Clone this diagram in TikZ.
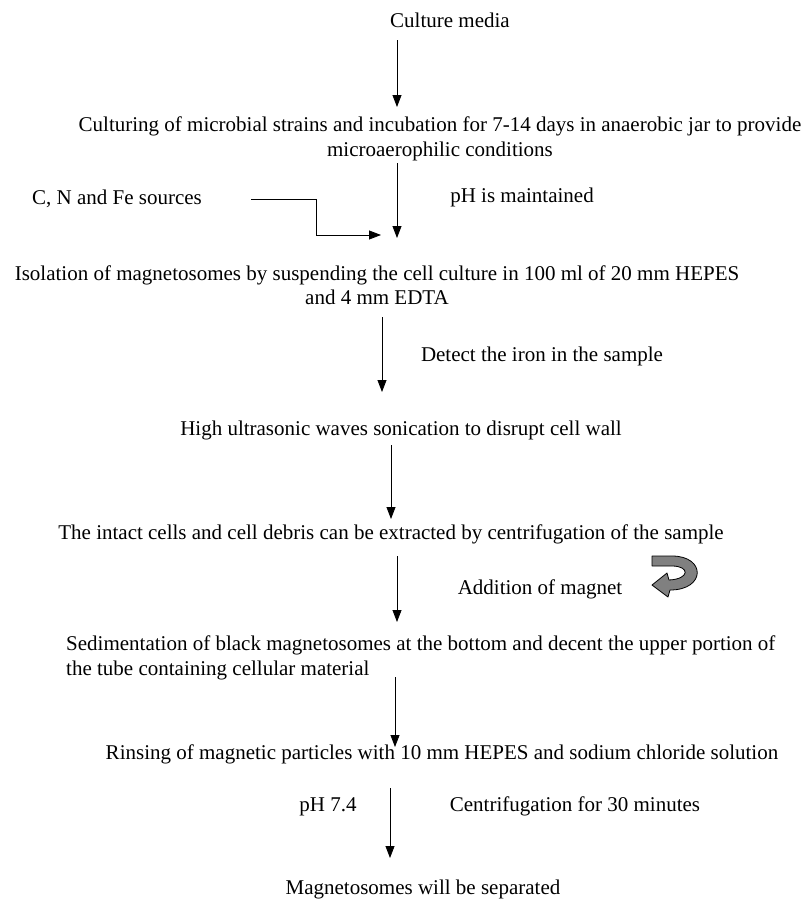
\documentclass[tikz,border=0pt]{standalone}
\usepackage{fontspec}
\setmainfont{Liberation Serif}
\usetikzlibrary{arrows.meta}
\newcommand{\fsz}{\fontsize{21}{24.5}\selectfont}
\tikzset{
  arr/.style={-{Triangle[width=9pt,length=12pt]}, line width=0.8pt},
  txt/.style={inner sep=0pt, font=\fsz, anchor=mid},
  blk/.style={inner sep=0pt, font=\fsz, align=center},
  turn/.style={fill=gray, draw=black, line width=0.8pt, line join=round}
}
\begin{document}
\begin{tikzpicture}[x=1pt,y=-1pt]
\useasboundingbox (0,0) rectangle (809,902);
% texts
\node[txt] (cm) at (450,25) {Culture media};
\node[blk] (cult) at (440,139) {Culturing of microbial strains and incubation for 7-14 days in anaerobic jar to provide\\microaerophilic conditions};
\node[txt] (cnf) at (117,202) {C, N and Fe sources};
\node[txt] (ph) at (522,200) {pH is maintained};
\node[blk] (iso) at (377,285) {Isolation of magnetosomes by suspending the cell culture in 100 ml of 20 mm HEPES\\and 4 mm EDTA};
\node[txt] (det) at (542,359) {Detect the iron in the sample};
\node[txt] (hu) at (401,433) {High ultrasonic waves sonication to disrupt cell wall};
\node[txt] (ic) at (391,537) {The intact cells and cell debris can be extracted by centrifugation of the sample};
\node[txt] (am) at (540,592) {Addition of magnet};
\node[blk, align=left, anchor=west] (sed) at (66,658) {Sedimentation of black magnetosomes at the bottom and decent the upper portion of\\the tube containing cellular material};
\node[txt] (rin) at (442,757) {Rinsing of magnetic particles with 10 mm HEPES and sodium chloride solution};
\node[txt] (p74) at (328,809) {pH 7.4};
\node[txt] (cen) at (575,809) {Centrifugation for 30 minutes};
\node[txt] (mag) at (423,892) {Magnetosomes will be separated};
% arrow end points
\coordinate (a1s) at (397,40);  \coordinate (a1e) at (397,107);
\coordinate (a2s) at (397,163); \coordinate (a2e) at (397,238);
\coordinate (a3s) at (382,317); \coordinate (a3e) at (382,392);
\coordinate (a4s) at (391,445); \coordinate (a4e) at (391,519);
\coordinate (a5s) at (397,556); \coordinate (a5e) at (397,622);
\coordinate (a6s) at (395,677); \coordinate (a6e) at (395,747);
\coordinate (a7s) at (390,788); \coordinate (a7e) at (390,858);
\coordinate (e0) at (251,199); \coordinate (ek) at (316,235); \coordinate (e1) at (381,235);
\draw[arr] (a1s) -- (a1e);
\draw[arr] (a2s) -- (a2e);
\draw[arr] (a3s) -- (a3e);
\draw[arr] (a4s) -- (a4e);
\draw[arr] (a5s) -- (a5e);
\draw[arr] (a6s) -- (a6e);
\draw[arr] (a7s) -- (a7e);
\draw[arr] (e0) -| (ek) -- (e1);
% curved turning arrow
\draw[turn] (652,556) -- (672,556) .. controls (706,556) and (706,590) .. (670,590)
  -- (668,597) -- (652,585) -- (667,573) -- (669,580)
  .. controls (690,579) and (690,566) .. (672,566) -- (652,566) -- cycle;
\end{tikzpicture}
\end{document}
